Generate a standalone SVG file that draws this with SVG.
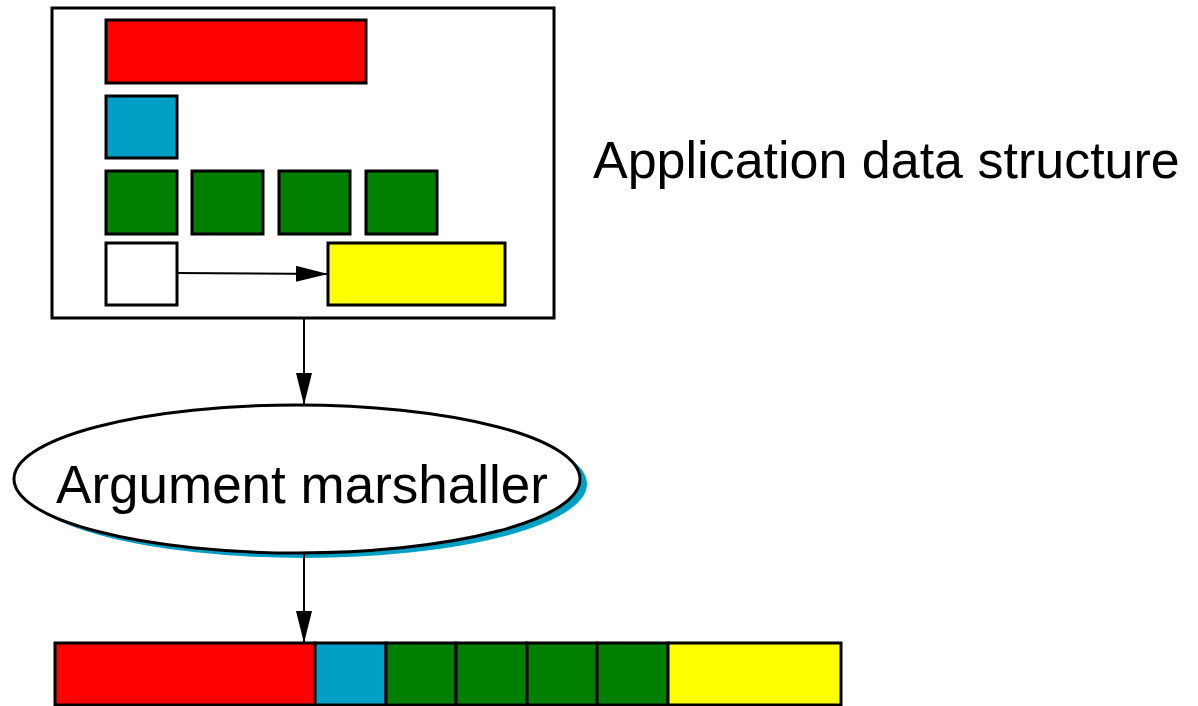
<svg xmlns="http://www.w3.org/2000/svg" width="1198" height="706" viewBox="0 0 1198 706">
<style>
.b{stroke:#000;stroke-width:3}
.red{fill:#ff0000}
.blue{fill:#00a0c6}
.green{fill:#007f00}
.yellow{fill:#ffff00}
.white{fill:#fff}
.t{font-family:"Liberation Sans",Arial,sans-serif;font-size:52px;fill:#000}
.c{stroke:#000;stroke-width:2;fill:none}
</style>
<defs>
<marker id="ah" markerWidth="32" markerHeight="16" refX="32" refY="8" orient="auto" markerUnits="userSpaceOnUse">
<path d="M0,0 L32,8 L0,16 Z" fill="#000"/>
</marker>
</defs>
<g id="app-structure">
<rect x="52" y="8" width="502" height="310" class="b white"/>
<rect x="106" y="20" width="260" height="63" class="b red"/>
<rect x="106" y="96" width="71" height="62" class="b blue"/>
<rect x="106" y="171" width="71" height="63" class="b green"/>
<rect x="192" y="171" width="71" height="63" class="b green"/>
<rect x="279" y="171" width="71" height="63" class="b green"/>
<rect x="366" y="171" width="71" height="63" class="b green"/>
<rect x="106" y="243" width="71" height="62" class="b white"/>
<rect x="328" y="243" width="177" height="62" class="b yellow"/>
</g>
<g id="label">
<text x="593" y="178" class="t">Application data structure</text>
</g>
<g id="marshaller">
<ellipse cx="304" cy="484" rx="283" ry="74" class="blue"/>
<ellipse cx="297" cy="479" rx="283" ry="74" fill="#fff" stroke="#000" stroke-width="3"/>
<text x="302" y="503" text-anchor="middle" class="t" style="font-size:53px">Argument marshaller</text>
</g>
<g id="buffer">
<rect x="55" y="643" width="260" height="62" class="b red"/>
<rect x="315" y="643" width="71" height="62" class="b blue"/>
<rect x="386" y="643" width="70" height="62" class="b green"/>
<rect x="456" y="643" width="71" height="62" class="b green"/>
<rect x="527" y="643" width="70" height="62" class="b green"/>
<rect x="597" y="643" width="71" height="62" class="b green"/>
<rect x="668" y="643" width="173" height="62" class="b yellow"/>
</g>
<g id="connectors">
<line x1="177" y1="273" x2="328" y2="274" class="c" marker-end="url(#ah)"/>
<line x1="304" y1="318" x2="304" y2="405" class="c" marker-end="url(#ah)"/>
<line x1="304" y1="553" x2="304" y2="643" class="c" marker-end="url(#ah)"/>
</g>
</svg>
